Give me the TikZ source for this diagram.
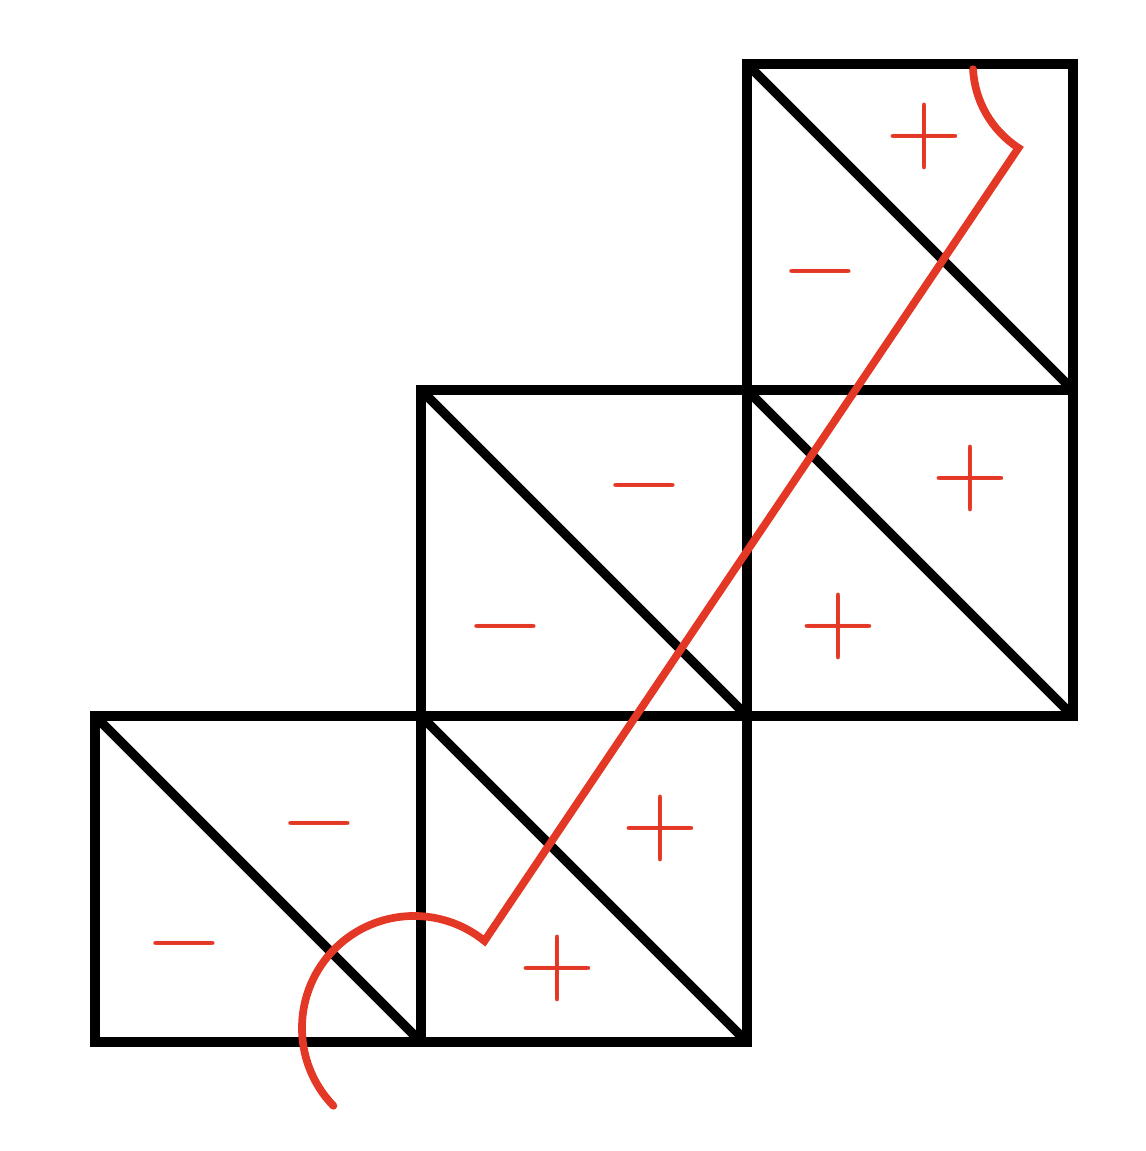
\documentclass[tikz,border=0pt]{standalone}
\usepackage{tikz}
\usetikzlibrary{calc}
\definecolor{signred}{RGB}{228,56,38}

\begin{document}
\begin{tikzpicture}[
    x=6.52cm, y=6.52cm,
    cell/.style={draw=black, line width=5.4pt, line join=miter},
    path/.style={draw=signred, line width=4.4pt, line cap=round, line join=miter},
    sign/.style={text=signred, inner sep=0pt},
    ]
    \useasboundingbox (-0.2914,-0.3344) rectangle (3.2209,3.1963);

    %Squares
    \foreach \i/\j in {0/0, 1/0, 1/1, 2/1, 2/2} {
        \draw[cell] (\i,\j) rectangle ++(1,1);
        \draw[cell] (\i,\j+1) -- ++(1,-1);
    }

    %Signs
    \node[sign] (tr1) at (2.543,2.779) {\scalebox{5.7}{$+$}};
    \node[sign] (tr2) at (2.224,2.365) {\scalebox{5.7}{$-$}};
    \node[sign] (mr1) at (2.684,1.730) {\scalebox{5.7}{$+$}};
    \node[sign] (mr2) at (2.279,1.276) {\scalebox{5.7}{$+$}};
    \node[sign] (mm1) at (1.684,1.706) {\scalebox{5.7}{$-$}};
    \node[sign] (mm2) at (1.258,1.276) {\scalebox{5.7}{$-$}};
    \node[sign] (bm1) at (1.733,0.656) {\scalebox{5.7}{$+$}};
    \node[sign] (bm2) at (1.420,0.227) {\scalebox{5.7}{$+$}};
    \node[sign] (bl1) at (0.690,0.669) {\scalebox{5.7}{$-$}};
    \node[sign] (bl2) at (0.273,0.301) {\scalebox{5.7}{$-$}};

    %Curve
    \coordinate (low) at (0.9785,0.0429);
    \coordinate (high) at (3,3);
    \coordinate (bend) at ($(high)+(237:0.307)$);
    \draw[path] ($(low)+(224:0.3436)$) arc[start angle=224, end angle=51, radius=0.3436]
        -- (bend) arc[start angle=237, end angle=183, radius=0.307];
\end{tikzpicture}
\end{document}
